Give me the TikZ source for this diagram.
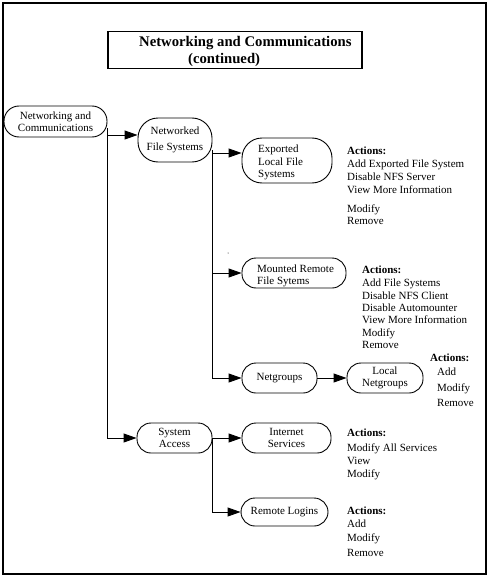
\documentclass[tikz,border=0pt]{standalone}
\usepackage{fontspec}
\setmainfont{Liberation Serif}
\usetikzlibrary{arrows.meta}
\begin{document}
\begin{tikzpicture}[x=1pt,y=-1pt,
  txt/.style={font=\fontsize{11}{12.5}\selectfont},
  pill/.style={draw, line width=0.9pt, rounded corners=#1, inner sep=0pt, txt, align=center},
  pill/.default=14pt,
  act/.style={anchor=west, inner sep=0pt, txt, text height=8pt, text depth=2.5pt},
  acth/.style={act, font=\fontsize{11}{12.5}\selectfont\bfseries},
  conn/.style={line width=0.9pt, -{Triangle[length=13pt,width=9pt]}},
  ttl/.style={anchor=west, inner sep=0pt, font=\fontsize{14.7}{16}\selectfont\bfseries}
]
\useasboundingbox (0,0) rectangle (490,578);
% outer frame
\draw[line width=1.8pt] (3,3) rectangle (486,574);
% title
\node[draw, line width=1.1pt, minimum width=254pt, minimum height=37pt, inner sep=0pt] (tbox) at (235,50) {};
\node[ttl] (t1) at (139,43) {Networking and Communications};
\node[ttl] (t2) at (188,60) {(continued)};
% nodes
\node[pill=15pt, minimum width=103pt, minimum height=31pt] (nc) at (55.5,121.5) {Networking and\\Communications};
\node[pill=20pt, minimum width=74pt, minimum height=44pt] (nfs) at (175,140) {Networked\\[3pt]File Systems};
\node[pill=20pt, minimum width=90pt, minimum height=45pt] (exp) at (287,160.5) {};
\node[anchor=west, inner sep=0pt, txt, align=left] (expt) at (258,162.5) {Exported\\Local File\\Systems};
\node[pill, minimum width=104pt, minimum height=30pt] (mnt) at (294,273) {};
\node[anchor=west, inner sep=0pt, txt, align=left] (mntt) at (257,276) {Mounted Remote\\File Sytems};
\node[pill, minimum width=75pt, minimum height=30pt] (ng) at (279.5,378) {Netgroups};
\node[pill, minimum width=76pt, minimum height=30pt] (lng) at (385,378) {Local\\Netgroups};
\node[pill, minimum width=75pt, minimum height=30pt] (sa) at (174.5,438) {System\\Access};
\node[pill, minimum width=89pt, minimum height=30pt] (is) at (286.5,438) {Internet\\Services};
\node[pill, minimum width=87pt, minimum height=28pt] (rl) at (284.5,512) {Remote Logins};
% connectors
\coordinate (j0) at (107,128);
\coordinate (j1) at (107,135);
\coordinate (j2) at (212,150);
\coordinate (j3) at (212,153);
\draw[conn] (j0) |- (sa.west);
\draw[conn] (j1) -- (j1 -| nfs.west);
\draw[conn] (j2) |- (ng.west);
\draw[conn] (j3) -- (j3 -| exp.west);
\draw[conn] (j2 |- mnt.west) -- (mnt.west);
\draw[conn] (ng.east) -- (lng.west);
\draw[conn] (sa.east) -- (is.west);
\draw[conn] (sa.east) |- (rl.west);
\coordinate (dot) at (228,253);
\fill (dot) circle (0.5pt);
% actions: exported
\node[acth] (ea0) at (347,152) {Actions:};
\node[act] (ea1) at (347,165) {Add Exported File System};
\node[act] (ea2) at (347,178) {Disable NFS Server};
\node[act] (ea3) at (347,191) {View More Information};
\node[act] (ea4) at (347,210) {Modify};
\node[act] (ea5) at (347,222) {Remove};
% actions: mounted
\node[acth] (ma0) at (362,270.5) {Actions:};
\node[act] (ma1) at (362,284) {Add File Systems};
\node[act] (ma2) at (362,297) {Disable NFS Client};
\node[act] (ma3) at (362,309) {Disable Automounter};
\node[act] (ma4) at (362,321) {View More Information};
\node[act] (ma5) at (362,334) {Modify};
\node[act] (ma6) at (362,346) {Remove};
% actions: local netgroups
\node[acth] (la0) at (430,359) {Actions:};
\node[act] (la1) at (437,373) {Add};
\node[act] (la2) at (437,389) {Modify};
\node[act] (la3) at (437,404) {Remove};
% actions: internet services
\node[acth] (ia0) at (347,434) {Actions:};
\node[act] (ia1) at (347,449) {Modify All Services};
\node[act] (ia2) at (347,462) {View};
\node[act] (ia3) at (347,475) {Modify};
% actions: remote logins
\node[acth] (ra0) at (347,512) {Actions:};
\node[act] (ra1) at (347,525) {Add};
\node[act] (ra2) at (347,539) {Modify};
\node[act] (ra3) at (347,554) {Remove};
\end{tikzpicture}
\end{document}
